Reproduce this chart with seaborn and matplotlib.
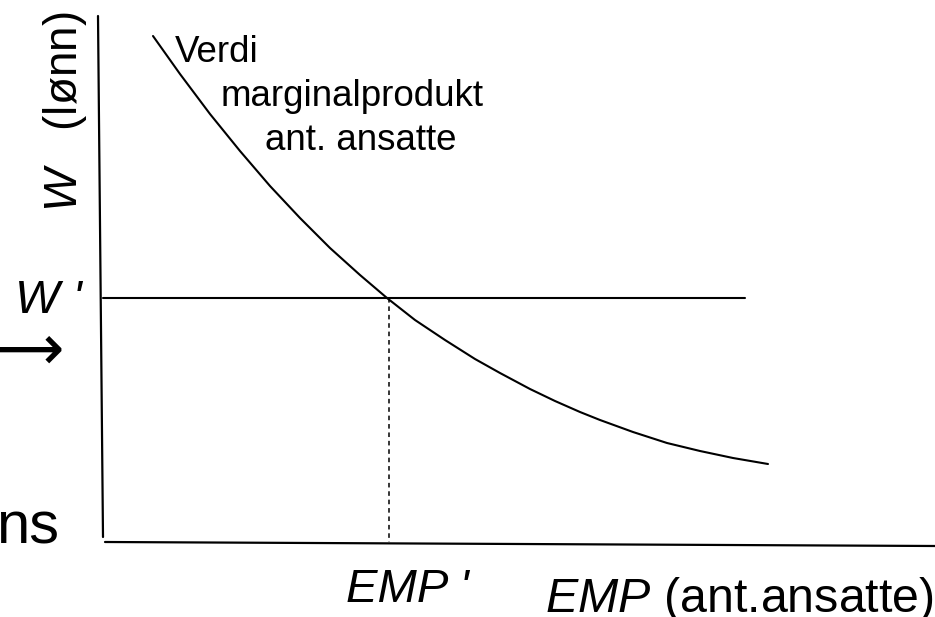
import matplotlib
matplotlib.use("Agg")
import matplotlib.pyplot as plt
import seaborn as sns
import pandas as pd

# ---- data (chart units: origin at the axes corner) ----
emp_curve = [50, 77, 107, 137, 167, 197, 227, 257, 284, 312, 342, 372, 397,
             427, 452, 477, 497, 530, 564, 597, 630, 665]
w_curve = [506, 468, 428, 391, 356, 324, 294, 267, 244, 222, 202, 183, 169,
           153, 141, 130, 122, 110, 99, 91, 84, 78]
w_prime = 244
emp_prime = 286
w_line_end = 642
y_axis_top = 526
x_axis_end = 832

labels = {
    "curve": ["Verdi", "marginalprodukt", "ant. ansatte"],
    "ylabel": r"$W$   (lønn)",
    "wprime": "W '",
    "empprime": "EMP '",
    "xlabel": r"$EMP$ (ant.ansatte)",
}

sns.set_theme(style="white")
plt.rcParams["font.family"] = ["Liberation Sans", "DejaVu Sans"]
plt.rcParams["mathtext.fontset"] = "custom"
plt.rcParams["mathtext.rm"] = "Liberation Sans"
plt.rcParams["mathtext.it"] = "Liberation Sans:italic"
plt.rcParams["text.color"] = "black"

fig = plt.figure(figsize=(9.35, 6.17), dpi=100)
ax = fig.add_axes([0, 0, 1, 1])
ax.set_xlim(-103, 832)
ax.set_ylim(-75, 542)
ax.axis("off")

df = pd.DataFrame({"emp": emp_curve, "w": w_curve})
sns.lineplot(data=df, x="emp", y="w", ax=ax, color="black", lw=1.5,
             sort=False, estimator=None)

# axes lines
ax.plot([-5, 0], [y_axis_top, 5], color="black", lw=1.6)
ax.plot([2, x_axis_end], [0, -4], color="black", lw=1.6)
# W' line and dashed EMP'
ax.plot([0, w_line_end], [w_prime, w_prime], color="black", lw=1.5)
ax.plot([emp_prime, emp_prime], [w_prime, 0], color="black", lw=1.1,
        linestyle=(0, (3, 2.5)))

# texts
tc = "black"
ax.text(72, 480, labels["curve"][0], fontsize=26.5, ha="left", va="baseline", color=tc)
ax.text(249, 436, labels["curve"][1], fontsize=26.5, ha="center", va="baseline", color=tc)
ax.text(258, 392, labels["curve"][2], fontsize=26.5, ha="center", va="baseline", color=tc)

ax.text(-38, 430, labels["ylabel"], fontsize=33, rotation=90,
        ha="center", va="center", color=tc)
ax.text(-21, 229, labels["wprime"], fontsize=34, ha="right", va="baseline",
        fontstyle="italic", color=tc)
ax.text(243, -60, labels["empprime"], fontsize=34, ha="left", va="baseline",
        fontstyle="italic", color=tc)
ax.text(442, -70, labels["xlabel"], fontsize=34.8, ha="left", va="baseline", color=tc)

ax.text(-39, 190, "⟶", fontsize=46, ha="right", va="center",
        family=["DejaVu Sans"], color=tc)
ax.text(-44, -1, "ns", fontsize=43, ha="right", va="baseline", color=tc)

fig.savefig("out.png", dpi=100)
